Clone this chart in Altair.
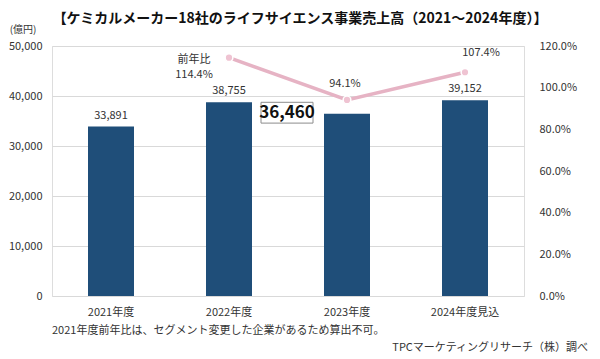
import altair as alt
import pandas as pd

categories = ["2021年度", "2022年度", "2023年度", "2024年度見込"]
sales = [33891, 38755, 36460, 39152]
yoy = [None, 1.144, 0.941, 1.074]
yoy_labels = ["", "前年比\n114.4%", "94.1%", "107.4%"]
label_dx = [0, -35, -2, 16]
label_dy = [0, 2, -16, -19]
highlight = [False, False, True, False]

FONT = "Noto Sans CJK JP"
BAR = "#1f4e79"
PINK = "#e6b3c4"
TXT = "#333333"

df = pd.DataFrame({
    "cat": categories, "sales": sales, "yoy": yoy, "yl": yoy_labels,
    "hl": highlight,
})

x = alt.X("cat:N", sort=categories, title=None,
          scale=alt.Scale(paddingInner=0.6, paddingOuter=0.3),
          axis=alt.Axis(labelAngle=0, labelFontSize=11, labelColor=TXT, labelFont=FONT,
                        domain=False, ticks=False, labelPadding=10))

ys = alt.Scale(domain=[0, 50000])
yp = alt.Scale(domain=[0, 1.2])

base = alt.Chart(df)

bars = base.mark_bar(color=BAR, size=46).encode(
    x=x,
    y=alt.Y("sales:Q", scale=ys,
            axis=alt.Axis(values=[0, 10000, 20000, 30000, 40000, 50000], format=",.0f",
                          domain=False, ticks=False, labelPadding=10, labelFontSize=11,
                          labelColor=TXT, labelFont=FONT, gridColor="#d9d9d9",
                          title="(億円)", titleAngle=0, titleX=-16, titleY=-17,
                          titleAlign="right", titleBaseline="middle", titleFontSize=10,
                          titleFontWeight="normal", titleColor=TXT, titleFont=FONT)),
)

bar_text = base.transform_filter("!datum.hl").mark_text(
    dy=-11, fontSize=11, color=TXT, font=FONT, baseline="middle"
).encode(x=x, y=alt.Y("sales:Q", scale=ys), text=alt.Text("sales:Q", format=",.0f"))

box = base.transform_filter("datum.hl").mark_point(
    shape="M-1,-0.4H1V0.4H-1Z", filled=True, fill="white", stroke="#8c8c8c",
    strokeWidth=1, opacity=1, size=2704, xOffset=-60, yOffset=-1
).encode(x=x, y=alt.Y("sales:Q", scale=ys))

box_text = base.transform_filter("datum.hl").mark_text(
    dx=-60, dy=-1, fontSize=17, fontWeight="bold", color="#111111", font=FONT, baseline="middle"
).encode(x=x, y=alt.Y("sales:Q", scale=ys), text=alt.Text("sales:Q", format=",.0f"))

left = alt.layer(bars, bar_text, box, box_text)

line = base.transform_filter("datum.yoy != null").mark_line(
    color=PINK, strokeWidth=3.5
).encode(
    x=x,
    y=alt.Y("yoy:Q", scale=yp,
            axis=alt.Axis(orient="right", values=[0, 0.2, 0.4, 0.6, 0.8, 1.0, 1.2], format=".1%",
                          domain=False, ticks=False, grid=False, labelPadding=15,
                          labelFontSize=11, labelColor=TXT, labelFont=FONT, title=None)),
)

pts = base.transform_filter("datum.yoy != null").mark_point(
    filled=True, fill="#efc3d2", stroke="white", strokeWidth=1.5, size=60, opacity=1
).encode(x=x, y=alt.Y("yoy:Q", scale=yp))

pct_layers = []
for i, c in enumerate(categories):
    if yoy[i] is None:
        continue
    pct_layers.append(
        base.transform_filter(alt.datum.cat == c).mark_text(
            fontSize=11, color=TXT, font=FONT, baseline="middle", lineBreak="\n",
            lineHeight=15, dx=label_dx[i], dy=label_dy[i]
        ).encode(x=x, y=alt.Y("yoy:Q", scale=yp), text="yl:N")
    )

right = alt.layer(line, pts, *pct_layers)

notes = alt.Chart(pd.DataFrame({"t": ["2021年度前年比は、セグメント変更した企業があるため算出不可。"]})).mark_text(
    align="left", baseline="middle", fontSize=11, color=TXT, font=FONT
).encode(x=alt.value(0), y=alt.value(285), text="t:N")

source = alt.Chart(pd.DataFrame({"t": ["TPCマーケティングリサーチ（株）調べ"]})).mark_text(
    align="right", baseline="middle", fontSize=11, color=TXT, font=FONT
).encode(x=alt.value(536), y=alt.value(302), text="t:N")

chart = alt.layer(left, right, notes, source).resolve_scale(y="independent").properties(
    width=472, height=250,
    title=alt.TitleParams("【ケミカルメーカー18社のライフサイエンス事業売上高（2021～2024年度）】",
                          fontSize=14, fontWeight="bold", font=FONT, color="#111111",
                          anchor="middle", dx=12, offset=8, dy=10),
    autosize=alt.AutoSizeParams(type="none"),
    padding={"left": 44, "top": 38, "right": 66, "bottom": 57},
).configure_view(stroke=None).configure(background="white")

chart.save("out.html", embed_options={"renderer": "svg", "actions": False})
